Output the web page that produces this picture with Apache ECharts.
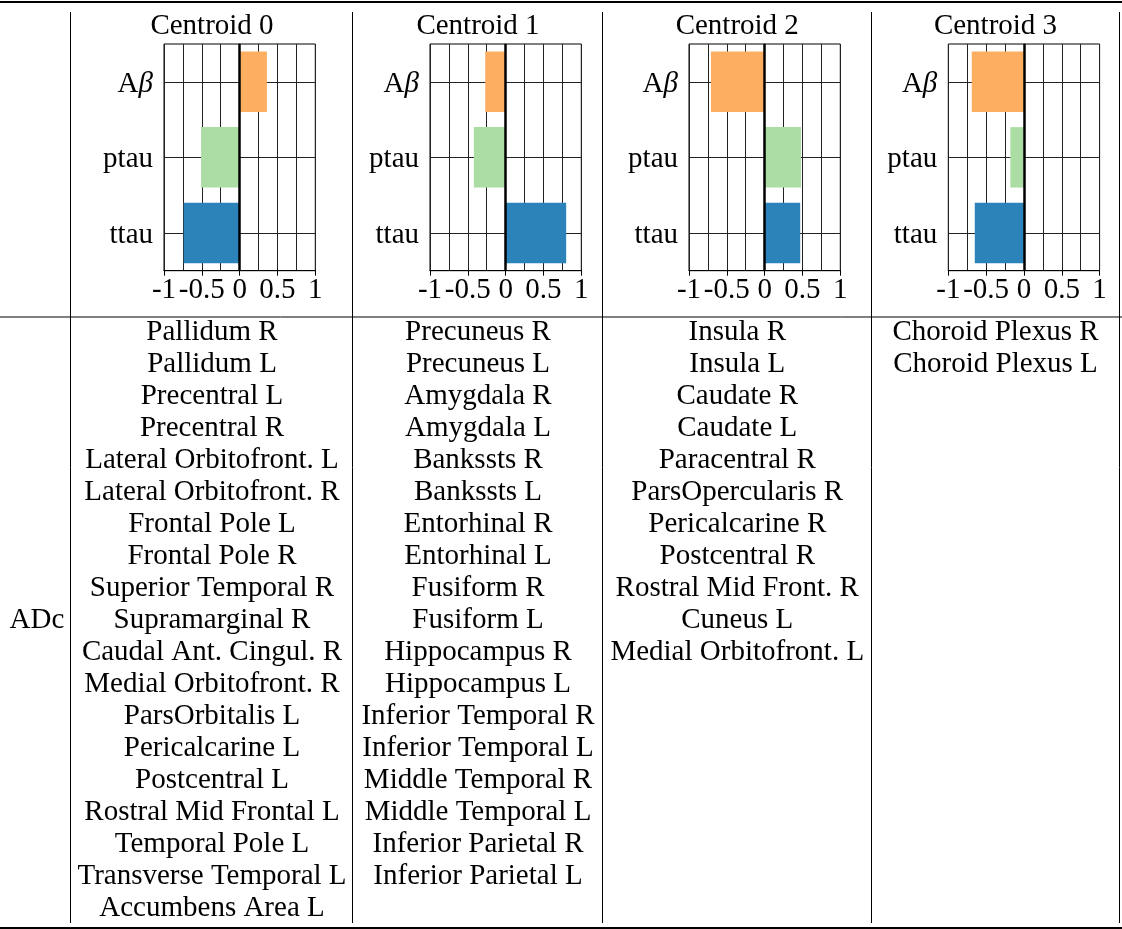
<!DOCTYPE html>
<html>
<head>
<meta charset="utf-8">
<title>Centroid biomarker profiles and ADc regions</title>
<script src="https://cdn.jsdelivr.net/npm/echarts@6/dist/echarts.min.js"></script>
<style>
  html, body { margin: 0; padding: 0; background: #fff; }
  #chart { width: 1122px; height: 929px; }
</style>
</head>
<body>
<div id="chart"></div>
<script>
// Biomarker categories (top to bottom) and centroid titles
const biomarkers = ['Aβ', 'ptau', 'ttau'];
const centroidTitles = ['Centroid 0', 'Centroid 1', 'Centroid 2', 'Centroid 3'];

// Standardised centroid values, one entry per centroid
const abeta = [0.36, -0.27, -0.71, -0.69];
const ptau  = [-0.51, -0.42, 0.48, -0.18];
const ttau  = [-0.74, 0.80, 0.47, -0.65];

// Row label and region lists per centroid
const rowLabel = 'ADc';
const regions0 = [
  'Pallidum R', 'Pallidum L', 'Precentral L', 'Precentral R',
  'Lateral Orbitofront. L', 'Lateral Orbitofront. R', 'Frontal Pole L',
  'Frontal Pole R', 'Superior Temporal R', 'Supramarginal R',
  'Caudal Ant. Cingul. R', 'Medial Orbitofront. R', 'ParsOrbitalis L',
  'Pericalcarine L', 'Postcentral L', 'Rostral Mid Frontal L',
  'Temporal Pole L', 'Transverse Temporal L', 'Accumbens Area L'
];
const regions1 = [
  'Precuneus R', 'Precuneus L', 'Amygdala R', 'Amygdala L', 'Bankssts R',
  'Bankssts L', 'Entorhinal R', 'Entorhinal L', 'Fusiform R', 'Fusiform L',
  'Hippocampus R', 'Hippocampus L', 'Inferior Temporal R',
  'Inferior Temporal L', 'Middle Temporal R', 'Middle Temporal L',
  'Inferior Parietal R', 'Inferior Parietal L'
];
const regions2 = [
  'Insula R', 'Insula L', 'Caudate R', 'Caudate L', 'Paracentral R',
  'ParsOpercularis R', 'Pericalcarine R', 'Postcentral R',
  'Rostral Mid Front. R', 'Cuneus L', 'Medial Orbitofront. L'
];
const regions3 = ['Choroid Plexus R', 'Choroid Plexus L'];

// ---- layout & style ----
const FONT = '"Liberation Serif", "Times New Roman", serif';
const FS = 29;
const barColors = ['#fdae61', '#abdda4', '#2b83ba'];
const colEdges = [0, 71, 353, 603, 871.5, 1119.5];
const sepX = [70.5, 352.5, 602.5, 871.5, 1119.5];
const plotLefts = [164, 430, 689, 948.3];
const plotWidth = 151.3;
const plotTop = 44;
const plotHeight = 226.7;
const rowY0 = 332;
const rowStep = 32;
const gridLine = '#222';

const valueSets = [abeta, ptau, ttau];
const regionCols = [regions0, regions1, regions2, regions3];

const chart = echarts.init(document.getElementById('chart'), null, { renderer: 'canvas' });

const grids = [], xAxes = [], yAxes = [], series = [], titles = [];

centroidTitles.forEach((name, i) => {
  const cx = (colEdges[i + 1] + colEdges[i + 2]) / 2;
  titles.push({
    text: name,
    left: cx,
    top: 12,
    textAlign: 'center',
    padding: 0,
    textStyle: { fontFamily: FONT, fontSize: FS, fontWeight: 'normal', color: '#000' }
  });
  grids.push({
    left: plotLefts[i], top: plotTop, width: plotWidth, height: plotHeight,
    show: true, borderColor: '#000', borderWidth: 1, backgroundColor: 'transparent'
  });
  xAxes.push({
    type: 'value', gridIndex: i, min: -1, max: 1, interval: 0.5,
    axisLine: { show: true, onZero: false, lineStyle: { color: '#000', width: 1 } },
    axisTick: { show: true, length: 5, lineStyle: { color: '#000', width: 1 } },
    minorTick: { show: false, splitNumber: 2 },
    splitLine: { show: true, lineStyle: { color: gridLine, width: 1 } },
    minorSplitLine: { show: true, lineStyle: { color: gridLine, width: 1 } },
    axisLabel: {
      show: true, margin: 5, hideOverlap: false, showMinLabel: true, showMaxLabel: true,
      fontFamily: FONT, fontSize: FS, color: '#000'
    }
  });
  yAxes.push({
    type: 'category', gridIndex: i, data: biomarkers, inverse: true,
    axisLine: { show: true, lineStyle: { color: '#000', width: 1 } },
    axisTick: { show: false },
    splitLine: { show: false },
    axisLabel: {
      margin: 11, padding: [5, 0, 0, 0], fontFamily: FONT, fontSize: FS, color: '#000',
      formatter: v => v === 'Aβ' ? '{n|A}{g|β}' : v,
      rich: {
        n: { fontFamily: FONT, fontSize: FS, color: '#000' },
        g: { fontFamily: FONT, fontSize: FS, color: '#000', fontStyle: 'italic' }
      }
    }
  });
  // horizontal guide lines through each biomarker row, beneath the bars
  series.push({
    type: 'line', xAxisIndex: i, yAxisIndex: i, data: [], silent: true,
    markLine: {
      silent: true, symbol: 'none', z: 1, animation: false,
      label: { show: false },
      lineStyle: { color: gridLine, width: 1, type: 'solid' },
      data: biomarkers.map((b, k) => ({ yAxis: k }))
    }
  });
  // bars, with a heavy zero line on top
  series.push({
    type: 'bar', xAxisIndex: i, yAxisIndex: i, barWidth: '80%', z: 3,
    data: biomarkers.map((b, k) => ({
      value: valueSets[k][i],
      itemStyle: { color: barColors[k] }
    })),
    markLine: {
      silent: true, symbol: 'none', z: 6, animation: false,
      label: { show: false },
      lineStyle: { color: '#000', width: 2.5, type: 'solid' },
      data: [{ xAxis: 0 }]
    }
  });
});

// Table rules, column separators and region text
const graphics = [];
const hline = (y, w) => graphics.push({
  type: 'line', silent: true, z: 10,
  shape: { x1: 0, y1: y, x2: 1122, y2: y },
  style: { stroke: '#000', lineWidth: w }
});
const vline = (x) => graphics.push({
  type: 'line', silent: true, z: 10,
  shape: { x1: x, y1: 12, x2: x, y2: 923 },
  style: { stroke: '#000', lineWidth: 1 }
});
hline(2, 2);
hline(317, 1);
hline(928, 2);
sepX.forEach(vline);

const addText = (txt, x, y) => graphics.push({
  type: 'text', silent: true, z: 10, x: x, y: y,
  style: {
    text: txt, fill: '#000', font: FS + 'px ' + FONT,
    align: 'center', verticalAlign: 'middle'
  }
});
addText(rowLabel, 37, rowY0 + 9 * rowStep);
regionCols.forEach((list, c) => {
  const cx = (colEdges[c + 1] + colEdges[c + 2]) / 2;
  list.forEach((name, r) => addText(name, cx, rowY0 + r * rowStep));
});

chart.setOption({
  animation: false,
  backgroundColor: '#fff',
  title: titles,
  grid: grids,
  xAxis: xAxes,
  yAxis: yAxes,
  series: series,
  graphic: graphics
});
</script>
</body>
</html>
